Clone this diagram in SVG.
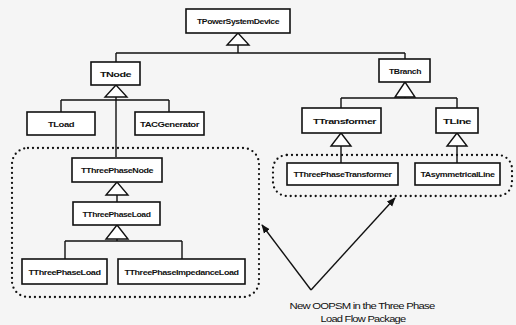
<svg xmlns="http://www.w3.org/2000/svg" width="516" height="325" viewBox="0 0 516 325">
<defs>
<style>
.box{fill:#ffffff;stroke:#111;stroke-width:1.6}
.t{font-family:"Liberation Sans",Arial,sans-serif;font-size:8px;font-weight:bold;fill:#111;text-anchor:middle;letter-spacing:-0.4px}
.ln{fill:none;stroke:#111;stroke-width:1.4}
.tri{fill:#ffffff;stroke:#111;stroke-width:1.4}
.dot{fill:none;stroke:#111;stroke-width:2.3;stroke-linecap:round;stroke-dasharray:0 5}
.lbl{font-family:"Liberation Sans",Arial,sans-serif;font-size:9px;fill:#111;text-anchor:middle;letter-spacing:-0.6px}
</style>
<marker id="ah" viewBox="0 0 10 10" refX="9" refY="5" markerWidth="9" markerHeight="9" orient="auto" markerUnits="userSpaceOnUse">
<path d="M0,1 L10,5 L0,9 Z" fill="#111"/>
</marker>
</defs>
<rect width="516" height="325" fill="#f5f5f5"/>

<g id="packages">
<rect class="dot" x="12" y="148" width="247" height="149" rx="16"/>
<rect class="dot" x="273" y="155" width="239" height="41" rx="14"/>
</g>

<g id="connectors">
<path class="ln" d="M238,45 V53 M116,53 H405 M116,53 V62 M405,53 V59"/>
<path class="ln" d="M116,97 V157 M61,100 H169 M61,100 V112 M169,100 V112"/>
<path class="ln" d="M117,195 V202"/>
<path class="ln" d="M117,239 V241 M65,241 H182 M65,241 V259 M182,241 V259"/>
<path class="ln" d="M405,97 V98 M341,98 H457 M341,98 V108 M457,98 V108"/>
<path class="ln" d="M341,146 V163 M457,146 V163"/>
<polygon class="tri" points="238,33 227,45 249,45"/>
<polygon class="tri" points="116,85 105,97 127,97"/>
<polygon class="tri" points="117,182 106,195 128,195"/>
<polygon class="tri" points="117,225 106,239 128,239"/>
<polygon class="tri" points="405,82 395,97 415,97"/>
<polygon class="tri" points="341,133 331,146 351,146"/>
<polygon class="tri" points="457,133 447,146 467,146"/>
<path class="ln" d="M311,290 L262,225" marker-end="url(#ah)"/>
<path class="ln" d="M311,290 L395,198" marker-end="url(#ah)"/>
</g>

<g id="n-TPowerSystemDevice"><rect class="box" x="186" y="9" width="104" height="24"/><text class="t" x="238" y="24" textLength="82" lengthAdjust="spacingAndGlyphs">TPowerSystemDevice</text></g>
<g id="n-TNode"><rect class="box" x="91" y="62" width="49" height="23"/><text class="t" x="115.5" y="76.5" textLength="31" lengthAdjust="spacingAndGlyphs">TNode</text></g>
<g id="n-TLoad"><rect class="box" x="27" y="112" width="68" height="23"/><text class="t" x="61" y="126.5" textLength="26" lengthAdjust="spacingAndGlyphs">TLoad</text></g>
<g id="n-TACGenerator"><rect class="box" x="135" y="112" width="69" height="23"/><text class="t" x="169.5" y="126.5" textLength="59" lengthAdjust="spacingAndGlyphs">TACGenerator</text></g>
<g id="n-TBranch"><rect class="box" x="379" y="59" width="51" height="23"/><text class="t" x="405" y="73.5" textLength="32" lengthAdjust="spacingAndGlyphs">TBranch</text></g>
<g id="n-TTransformer"><rect class="box" x="302" y="108" width="79" height="25"/><text class="t" x="344.5" y="123.5" textLength="63" lengthAdjust="spacingAndGlyphs">TTransformer</text></g>
<g id="n-TLine"><rect class="box" x="436" y="108" width="42" height="25"/><text class="t" x="457" y="123.5" textLength="28" lengthAdjust="spacingAndGlyphs">TLine</text></g>
<g id="n-TThreePhaseNode"><rect class="box" x="72" y="158" width="90" height="24"/><text class="t" x="117" y="172.5" textLength="72" lengthAdjust="spacingAndGlyphs">TThreePhaseNode</text></g>
<g id="n-TThreePhaseLoad"><rect class="box" x="73" y="202" width="87" height="23"/><text class="t" x="116.5" y="216.5" textLength="68" lengthAdjust="spacingAndGlyphs">TThreePhaseLoad</text></g>
<g id="n-TThreePhaseLoad2"><rect class="box" x="22" y="259" width="85" height="25"/><text class="t" x="64.5" y="274.5" textLength="72" lengthAdjust="spacingAndGlyphs">TThreePhaseLoad</text></g>
<g id="n-TThreePhaseImpedanceLoad"><rect class="box" x="118" y="259" width="127" height="25"/><text class="t" x="181.5" y="274.5" textLength="114" lengthAdjust="spacingAndGlyphs">TThreePhaseImpedanceLoad</text></g>
<g id="n-TThreePhaseTransformer"><rect class="box" x="287" y="163" width="111" height="22"/><text class="t" x="342.5" y="177" textLength="98" lengthAdjust="spacingAndGlyphs">TThreePhaseTransformer</text></g>
<g id="n-TAsymmetricalLine"><rect class="box" x="415" y="163" width="85" height="22"/><text class="t" x="457.5" y="177" textLength="74" lengthAdjust="spacingAndGlyphs">TAsymmetricalLine</text></g>

<g id="label">
<text class="lbl" x="362" y="309" textLength="145" lengthAdjust="spacingAndGlyphs">New OOPSM in the Three Phase</text>
<text class="lbl" x="363" y="322" textLength="85" lengthAdjust="spacingAndGlyphs">Load Flow Package</text>
</g>
</svg>
